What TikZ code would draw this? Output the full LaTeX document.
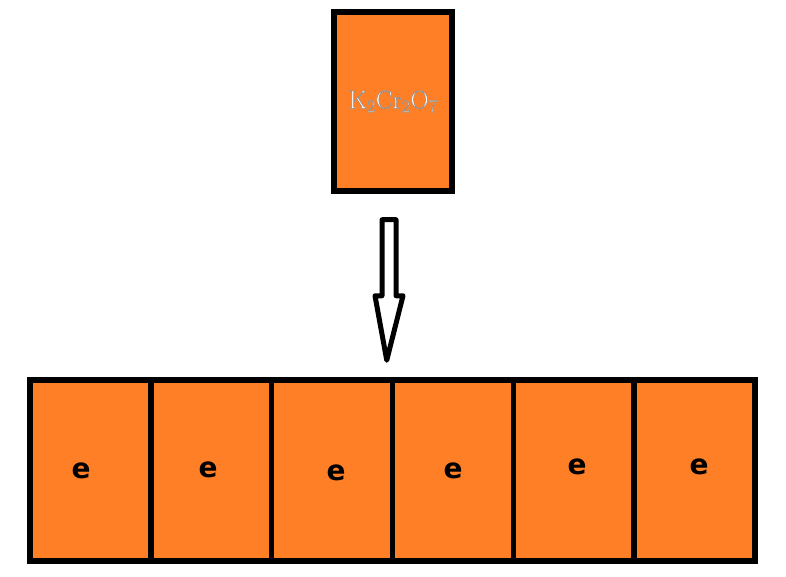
\documentclass[tikz,border=0pt]{standalone}
\usepackage{fontspec}
\usepackage{tikz}
\usetikzlibrary{calc}
\newfontfamily\cellfont{DejaVu Sans}
\definecolor{paintorange}{RGB}{255, 127, 39}
% white letters with a grey rim
\newcommand{\rimtext}[1]{\special{pdf:literal 2 Tr 0.5 w 0.55 0.55 0.55 RG}#1\special{pdf:literal 0 Tr 0 G}}
\tikzset{
  cellbox/.style={draw=black, fill=paintorange, line width=5.5pt, inner sep=0pt,
                  minimum width=120.8pt, minimum height=181pt},
  saltbox/.style={draw=black, fill=paintorange, line width=5.5pt, inner sep=0pt,
                  minimum width=118pt, minimum height=179pt},
  eletter/.style={font=\cellfont\bfseries\fontsize{28}{32}\selectfont, inner sep=0pt},
  hollow/.style={draw=black, fill=white, line width=5pt, line join=round}
}

\begin{document}
\begin{tikzpicture}[x=1pt, y=-1pt]
            \useasboundingbox (0,0) rectangle (786,577);
            % top box
            \node[saltbox, text=white] (salt) at (393,101.5)
                 {\fontsize{25.5}{30}\selectfont\rimtext{K\textsubscript{2}Cr\textsubscript{2}O\textsubscript{7}}};
            % row of cells
            \node[cellbox] (c1) at ( 90.4,470.5) {};
            \node[cellbox] (c2) at (211.2,470.5) {};
            \node[cellbox] (c3) at (332.0,470.5) {};
            \node[cellbox] (c4) at (452.9,470.5) {};
            \node[cellbox] (c5) at (573.7,470.5) {};
            \node[cellbox] (c6) at (694.6,470.5) {};
            \node[eletter] (e1) at ( 81,471) {e};
            \node[eletter] (e2) at (208,470) {e};
            \node[eletter] (e3) at (336,473) {e};
            \node[eletter] (e4) at (453,471) {e};
            \node[eletter] (e5) at (577,467) {e};
            \node[eletter] (e6) at (699,467) {e};
            % hollow arrow
            \coordinate (tail) at ($(salt.south)+(-4,26)$);
            \coordinate (tip)  at ($(c4.north west)+(-3,-17)$);
            \draw[hollow] ($(tail)+(-7,0)$) -- ($(tail)+(7,0)$) -- ($(tail)+(7,76)$) -- ($(tail)+(14,76)$)
                 -- (tip) -- ($(tail)+(-14,76)$) -- ($(tail)+(-7,76)$) -- cycle;
        \end{tikzpicture}
\end{document}
